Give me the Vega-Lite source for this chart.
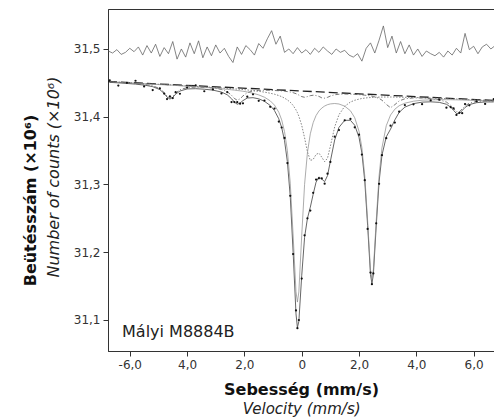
{
"$schema": "https://vega.github.io/schema/vega-lite/v6.json",
"width": 386, "height": 342,
"autosize": {"type": "none"},
"padding": {"left": 108, "top": 9, "right": 0, "bottom": 67},
"background": "white",
"config": {"view": {"stroke": "#333", "strokeWidth": 1}, "font": "DejaVu Sans"},
"datasets": {
"spec": [
{"v":-6.7,"fit":31.4507,"fe2":31.4514,"fe3":31.4516,"sx":31.4515,"obs":31.4537},
{"v":-6.4,"fit":31.4500,"fe2":31.4508,"fe3":31.4510,"sx":31.4508,"obs":31.4460},
{"v":-6.1,"fit":31.4491,"fe2":31.4501,"fe3":31.4504,"sx":31.4500,"obs":31.4501},
{"v":-5.8,"fit":31.4481,"fe2":31.4494,"fe3":31.4497,"sx":31.4492,"obs":31.4531},
{"v":-5.5,"fit":31.4467,"fe2":31.4487,"fe3":31.4490,"sx":31.4478,"obs":31.4447},
{"v":-5.2,"fit":31.4444,"fe2":31.4480,"fe3":31.4484,"sx":31.4457,"obs":31.4394},
{"v":-4.95,"fit":31.4400,"fe2":31.4474,"fe3":31.4478,"sx":31.4414,"obs":31.4420},
{"v":-4.8,"fit":31.4342,"fe2":31.4471,"fe3":31.4475,"sx":31.4356,"obs":31.4342},
{"v":-4.7,"fit":31.4290,"fe2":31.4469,"fe3":31.4473,"sx":31.4304,"obs":31.4260},
{"v":-4.6,"fit":31.4260,"fe2":31.4467,"fe3":31.4471,"sx":31.4274,"obs":31.4300},
{"v":-4.5,"fit":31.4286,"fe2":31.4465,"fe3":31.4469,"sx":31.4300,"obs":31.4276},
{"v":-4.4,"fit":31.4333,"fe2":31.4463,"fe3":31.4467,"sx":31.4348,"obs":31.4363},
{"v":-4.25,"fit":31.4379,"fe2":31.4456,"fe3":31.4461,"sx":31.4398,"obs":31.4339},
{"v":-4.0,"fit":31.4410,"fe2":31.4450,"fe3":31.4456,"sx":31.4430,"obs":31.4430},
{"v":-3.7,"fit":31.4414,"fe2":31.4442,"fe3":31.4449,"sx":31.4437,"obs":31.4464},
{"v":-3.4,"fit":31.4406,"fe2":31.4433,"fe3":31.4441,"sx":31.4434,"obs":31.4376},
{"v":-3.1,"fit":31.4393,"fe2":31.4424,"fe3":31.4434,"sx":31.4425,"obs":31.4403},
{"v":-2.8,"fit":31.4364,"fe2":31.4412,"fe3":31.4425,"sx":31.4403,"obs":31.4344},
{"v":-2.6,"fit":31.4324,"fe2":31.4404,"fe3":31.4419,"sx":31.4369,"obs":31.4364},
{"v":-2.45,"fit":31.4266,"fe2":31.4397,"fe3":31.4414,"sx":31.4317,"obs":31.4216},
{"v":-2.35,"fit":31.4216,"fe2":31.4393,"fe3":31.4411,"sx":31.4270,"obs":31.4216},
{"v":-2.25,"fit":31.4184,"fe2":31.4387,"fe3":31.4408,"sx":31.4243,"obs":31.4214},
{"v":-2.15,"fit":31.4202,"fe2":31.4382,"fe3":31.4405,"sx":31.4265,"obs":31.4192},
{"v":-2.05,"fit":31.4238,"fe2":31.4376,"fe3":31.4401,"sx":31.4307,"obs":31.4198},
{"v":-1.9,"fit":31.4276,"fe2":31.4365,"fe3":31.4395,"sx":31.4356,"obs":31.4296},
{"v":-1.7,"fit":31.4281,"fe2":31.4346,"fe3":31.4385,"sx":31.4380,"obs":31.4331},
{"v":-1.5,"fit":31.4264,"fe2":31.4322,"fe3":31.4375,"sx":31.4389,"obs":31.4234},
{"v":-1.3,"fit":31.4228,"fe2":31.4288,"fe3":31.4363,"sx":31.4391,"obs":31.4238},
{"v":-1.1,"fit":31.4166,"fe2":31.4235,"fe3":31.4347,"sx":31.4390,"obs":31.4146},
{"v":-0.95,"fit":31.4090,"fe2":31.4171,"fe3":31.4332,"sx":31.4387,"obs":31.4120},
{"v":-0.8,"fit":31.3969,"fe2":31.4066,"fe3":31.4313,"sx":31.4384,"obs":31.3929},
{"v":-0.7,"fit":31.3841,"fe2":31.3954,"fe3":31.4296,"sx":31.4381,"obs":31.3841},
{"v":-0.6,"fit":31.3647,"fe2":31.3780,"fe3":31.4275,"sx":31.4376,"obs":31.3687},
{"v":-0.5,"fit":31.3336,"fe2":31.3497,"fe3":31.4248,"sx":31.4371,"obs":31.3316},
{"v":-0.4,"fit":31.2822,"fe2":31.3019,"fe3":31.4214,"sx":31.4365,"obs":31.2832},
{"v":-0.3,"fit":31.2003,"fe2":31.2253,"fe3":31.4167,"sx":31.4355,"obs":31.1973},
{"v":-0.2,"fit":31.1091,"fe2":31.1418,"fe3":31.4101,"sx":31.4340,"obs":31.1141},
{"v":-0.15,"fit":31.0888,"fe2":31.1264,"fe3":31.4059,"sx":31.4331,"obs":31.0878},
{"v":-0.1,"fit":31.0978,"fe2":31.1414,"fe3":31.4008,"sx":31.4320,"obs":31.0998},
{"v":0.0,"fit":31.1652,"fe2":31.2242,"fe3":31.3873,"sx":31.4297,"obs":31.1612},
{"v":0.1,"fit":31.2220,"fe2":31.3001,"fe3":31.3688,"sx":31.4287,"obs":31.2250},
{"v":0.2,"fit":31.2500,"fe2":31.3472,"fe3":31.3483,"sx":31.4297,"obs":31.2500},
{"v":0.3,"fit":31.2665,"fe2":31.3748,"fe3":31.3354,"sx":31.4311,"obs":31.2615},
{"v":0.4,"fit":31.2856,"fe2":31.3913,"fe3":31.3370,"sx":31.4317,"obs":31.2876},
{"v":0.5,"fit":31.3033,"fe2":31.4017,"fe3":31.3443,"sx":31.4313,"obs":31.3073},
{"v":0.6,"fit":31.3111,"fe2":31.4084,"fe3":31.3463,"sx":31.4300,"obs":31.3091},
{"v":0.7,"fit":31.3079,"fe2":31.4128,"fe3":31.3402,"sx":31.4279,"obs":31.3089},
{"v":0.8,"fit":31.3042,"fe2":31.4158,"fe3":31.3336,"sx":31.4274,"obs":31.3012},
{"v":0.9,"fit":31.3130,"fe2":31.4178,"fe3":31.3388,"sx":31.4286,"obs":31.3160},
{"v":1.0,"fit":31.3342,"fe2":31.4189,"fe3":31.3566,"sx":31.4305,"obs":31.3332},
{"v":1.15,"fit":31.3656,"fe2":31.4195,"fe3":31.3849,"sx":31.4324,"obs":31.3706},
{"v":1.3,"fit":31.3843,"fe2":31.4188,"fe3":31.4029,"sx":31.4332,"obs":31.3803},
{"v":1.5,"fit":31.3947,"fe2":31.4156,"fe3":31.4154,"sx":31.4335,"obs":31.3947},
{"v":1.7,"fit":31.3947,"fe2":31.4088,"fe3":31.4217,"sx":31.4332,"obs":31.3967},
{"v":1.85,"fit":31.3874,"fe2":31.3985,"fe3":31.4243,"sx":31.4330,"obs":31.3844},
{"v":2.0,"fit":31.3695,"fe2":31.3785,"fe3":31.4260,"sx":31.4326,"obs":31.3735},
{"v":2.1,"fit":31.3462,"fe2":31.3543,"fe3":31.4269,"sx":31.4322,"obs":31.3442},
{"v":2.2,"fit":31.3053,"fe2":31.3128,"fe3":31.4275,"sx":31.4318,"obs":31.3063},
{"v":2.3,"fit":31.2393,"fe2":31.2464,"fe3":31.4280,"sx":31.4313,"obs":31.2343},
{"v":2.4,"fit":31.1669,"fe2":31.1739,"fe3":31.4283,"sx":31.4307,"obs":31.1699},
{"v":2.45,"fit":31.1538,"fe2":31.1607,"fe3":31.4285,"sx":31.4304,"obs":31.1528},
{"v":2.5,"fit":31.1667,"fe2":31.1739,"fe3":31.4286,"sx":31.4298,"obs":31.1687},
{"v":2.6,"fit":31.2387,"fe2":31.2465,"fe3":31.4288,"sx":31.4286,"obs":31.2427},
{"v":2.7,"fit":31.3039,"fe2":31.3128,"fe3":31.4289,"sx":31.4270,"obs":31.3009},
{"v":2.8,"fit":31.3432,"fe2":31.3542,"fe3":31.4290,"sx":31.4244,"obs":31.3432},
{"v":2.95,"fit":31.3703,"fe2":31.3867,"fe3":31.4291,"sx":31.4183,"obs":31.3683},
{"v":3.1,"fit":31.3817,"fe2":31.4025,"fe3":31.4291,"sx":31.4133,"obs":31.3867},
{"v":3.25,"fit":31.3953,"fe2":31.4111,"fe3":31.4290,"sx":31.4178,"obs":31.3913},
{"v":3.4,"fit":31.4064,"fe2":31.4162,"fe3":31.4289,"sx":31.4233,"obs":31.4074},
{"v":3.6,"fit":31.4142,"fe2":31.4200,"fe3":31.4287,"sx":31.4265,"obs":31.4172},
{"v":3.9,"fit":31.4193,"fe2":31.4229,"fe3":31.4284,"sx":31.4278,"obs":31.4183},
{"v":4.2,"fit":31.4215,"fe2":31.4244,"fe3":31.4281,"sx":31.4276,"obs":31.4185},
{"v":4.5,"fit":31.4220,"fe2":31.4249,"fe3":31.4276,"sx":31.4267,"obs":31.4240},
{"v":4.8,"fit":31.4212,"fe2":31.4251,"fe3":31.4271,"sx":31.4250,"obs":31.4252},
{"v":5.05,"fit":31.4184,"fe2":31.4251,"fe3":31.4267,"sx":31.4216,"obs":31.4134},
{"v":5.2,"fit":31.4141,"fe2":31.4251,"fe3":31.4265,"sx":31.4169,"obs":31.4141},
{"v":5.3,"fit":31.4093,"fe2":31.4250,"fe3":31.4263,"sx":31.4120,"obs":31.4123},
{"v":5.4,"fit":31.4047,"fe2":31.4249,"fe3":31.4261,"sx":31.4073,"obs":31.4027},
{"v":5.5,"fit":31.4047,"fe2":31.4248,"fe3":31.4259,"sx":31.4072,"obs":31.4057},
{"v":5.6,"fit":31.4092,"fe2":31.4247,"fe3":31.4258,"sx":31.4115,"obs":31.4052},
{"v":5.7,"fit":31.4137,"fe2":31.4245,"fe3":31.4255,"sx":31.4159,"obs":31.4187},
{"v":5.85,"fit":31.4179,"fe2":31.4243,"fe3":31.4252,"sx":31.4200,"obs":31.4169},
{"v":6.1,"fit":31.4207,"fe2":31.4240,"fe3":31.4248,"sx":31.4225,"obs":31.4227},
{"v":6.4,"fit":31.4218,"fe2":31.4236,"fe3":31.4243,"sx":31.4233,"obs":31.4188},
{"v":6.7,"fit":31.4218,"fe2":31.4231,"fe3":31.4237,"sx":31.4232,"obs":31.4258}
],
"base": [{"v":-6.76,"b":31.452},{"v":6.71,"b":31.424}],
"res": [
{"v":-6.75,"r":31.497},{"v":-6.6,"r":31.494},{"v":-6.45,"r":31.499},{"v":-6.3,"r":31.492},{"v":-6.15,"r":31.495},{"v":-6.0,"r":31.501},{"v":-5.85,"r":31.496},{"v":-5.7,"r":31.503},{"v":-5.55,"r":31.491},{"v":-5.4,"r":31.505},{"v":-5.25,"r":31.494},{"v":-5.1,"r":31.507},{"v":-4.95,"r":31.489},{"v":-4.8,"r":31.502},{"v":-4.65,"r":31.493},{"v":-4.5,"r":31.511},{"v":-4.35,"r":31.485},{"v":-4.2,"r":31.500},{"v":-4.05,"r":31.488},{"v":-3.9,"r":31.509},{"v":-3.75,"r":31.493},{"v":-3.6,"r":31.512},{"v":-3.45,"r":31.487},{"v":-3.3,"r":31.503},{"v":-3.15,"r":31.490},{"v":-3.0,"r":31.506},{"v":-2.85,"r":31.494},{"v":-2.7,"r":31.501},{"v":-2.55,"r":31.489},{"v":-2.4,"r":31.480},{"v":-2.25,"r":31.503},{"v":-2.1,"r":31.492},{"v":-1.95,"r":31.505},{"v":-1.8,"r":31.499},{"v":-1.65,"r":31.491},{"v":-1.5,"r":31.508},{"v":-1.35,"r":31.501},{"v":-1.2,"r":31.515},{"v":-1.05,"r":31.527},{"v":-0.9,"r":31.507},{"v":-0.75,"r":31.519},{"v":-0.6,"r":31.495},{"v":-0.45,"r":31.500},{"v":-0.3,"r":31.493},{"v":-0.15,"r":31.502},{"v":0.0,"r":31.494},{"v":0.15,"r":31.499},{"v":0.3,"r":31.492},{"v":0.45,"r":31.501},{"v":0.6,"r":31.495},{"v":0.75,"r":31.503},{"v":0.9,"r":31.497},{"v":1.05,"r":31.492},{"v":1.2,"r":31.500},{"v":1.35,"r":31.495},{"v":1.5,"r":31.498},{"v":1.65,"r":31.491},{"v":1.8,"r":31.488},{"v":1.95,"r":31.493},{"v":2.1,"r":31.482},{"v":2.25,"r":31.501},{"v":2.4,"r":31.509},{"v":2.55,"r":31.494},{"v":2.7,"r":31.513},{"v":2.85,"r":31.534},{"v":3.0,"r":31.502},{"v":3.15,"r":31.519},{"v":3.3,"r":31.494},{"v":3.45,"r":31.511},{"v":3.6,"r":31.493},{"v":3.75,"r":31.506},{"v":3.9,"r":31.491},{"v":4.05,"r":31.500},{"v":4.2,"r":31.489},{"v":4.35,"r":31.497},{"v":4.5,"r":31.493},{"v":4.65,"r":31.490},{"v":4.8,"r":31.495},{"v":4.95,"r":31.488},{"v":5.1,"r":31.497},{"v":5.25,"r":31.491},{"v":5.4,"r":31.501},{"v":5.55,"r":31.494},{"v":5.7,"r":31.523},{"v":5.85,"r":31.499},{"v":6.0,"r":31.504},{"v":6.15,"r":31.493},{"v":6.3,"r":31.503},{"v":6.45,"r":31.507},{"v":6.6,"r":31.500},{"v":6.75,"r":31.505}
]
},
"layer": [
{
"data": {"name": "spec"},
"mark": {"type": "line", "color": "#555", "strokeWidth": 0.9, "clip": true},
"encoding": {
"x": {"field": "v", "type": "quantitative", "title": "Sebesség (mm/s)", "scale": {"domain": [-6.76, 6.71], "nice": false, "zero": false},
 "axis": {"values": [-6,-5,-4,-3,-2,-1,0,1,2,3,4,5,6], "grid": false,
  "labelExpr": "datum.value == 0 ? '0' : (datum.value % 2 != 0 ? '' : (datum.value == -6 ? '-6,0' : replace(format(abs(datum.value), '.1f'), '.', ',')))",
  "tickSize": {"condition": {"test": "datum.value % 2 != 0", "value": 3}, "value": 5},
  "labelFont": "DejaVu Sans", "labelFontSize": 12, "labelColor": "#333", "labelPadding": 3,
  "domainColor": "#333", "tickColor": "#333",
  "titleFont": "DejaVu Sans", "titleFontSize": 16, "titleFontWeight": "bold", "titleColor": "#111", "titlePadding": 11}},
"y": {"field": "fit", "type": "quantitative", "title": "Beütésszám (×10⁶)", "scale": {"domain": [31.0542, 31.559], "nice": false, "zero": false},
 "axis": {"values": [31.1, 31.2, 31.3, 31.4, 31.5], "grid": false,
  "labelExpr": "replace(format(datum.value, '.1f'), '.', ',')",
  "labelFont": "DejaVu Sans", "labelFontSize": 12, "labelColor": "#333", "labelPadding": 3, "tickSize": 5,
  "domainColor": "#333", "tickColor": "#333",
  "titleFont": "DejaVu Sans", "titleFontSize": 16, "titleFontWeight": "bold", "titleColor": "#111", "titlePadding": 35, "titleY": 191}}
}
},
{
"data": {"name": "res"},
"mark": {"type": "line", "color": "#666", "strokeWidth": 0.8, "clip": true},
"encoding": {
"x": {"field": "v", "type": "quantitative", "title": "Sebesség (mm/s)"},
"y": {"field": "r", "type": "quantitative", "title": "Beütésszám (×10⁶)"}
}
},
{
"data": {"name": "base"},
"mark": {"type": "line", "color": "#222", "strokeWidth": 1.3, "strokeDash": [9, 4]},
"encoding": {
"x": {"field": "v", "type": "quantitative", "title": "Sebesség (mm/s)"},
"y": {"field": "b", "type": "quantitative", "title": "Beütésszám (×10⁶)"}
}
},
{
"data": {"name": "spec"},
"mark": {"type": "line", "color": "#555", "strokeWidth": 0.8, "strokeDash": [4, 2, 1, 2]},
"encoding": {
"x": {"field": "v", "type": "quantitative", "title": "Sebesség (mm/s)"},
"y": {"field": "sx", "type": "quantitative", "title": "Beütésszám (×10⁶)"}
}
},
{
"data": {"name": "spec"},
"mark": {"type": "line", "color": "#666", "strokeWidth": 0.8, "strokeDash": [1.5, 1.5]},
"encoding": {
"x": {"field": "v", "type": "quantitative", "title": "Sebesség (mm/s)"},
"y": {"field": "fe3", "type": "quantitative", "title": "Beütésszám (×10⁶)"}
}
},
{
"data": {"name": "spec"},
"mark": {"type": "line", "color": "#888", "strokeWidth": 0.7},
"encoding": {
"x": {"field": "v", "type": "quantitative", "title": "Sebesség (mm/s)"},
"y": {"field": "fe2", "type": "quantitative", "title": "Beütésszám (×10⁶)"}
}
},
{
"data": {"name": "spec"},
"mark": {"type": "point", "filled": true, "color": "#111", "size": 5, "opacity": 1},
"encoding": {
"x": {"field": "v", "type": "quantitative", "title": "Sebesség (mm/s)"},
"y": {"field": "obs", "type": "quantitative", "title": "Beütésszám (×10⁶)"}
}
},
{
"data": {"values": [{}]},
"mark": {"type": "text", "text": "Mályi M8884B", "font": "DejaVu Sans", "fontSize": 16, "color": "#222", "align": "left", "baseline": "middle"},
"encoding": {
"x": {"datum": -6.27, "type": "quantitative", "title": "Sebesség (mm/s)"},
"y": {"datum": 31.0823, "type": "quantitative", "title": "Beütésszám (×10⁶)"}
}
},
{
"data": {"values": [{}]},
"mark": {"type": "text", "text": "Velocity (mm/s)", "font": "DejaVu Sans", "fontSize": 15, "fontStyle": "italic", "color": "#222", "align": "center", "baseline": "middle"},
"encoding": {
"x": {"datum": 0, "type": "quantitative", "title": "Sebesség (mm/s)"},
"y": {"datum": 30.9686, "type": "quantitative", "title": "Beütésszám (×10⁶)"}
}
},
{
"data": {"values": [{}]},
"mark": {"type": "text", "text": "Number of counts (×10⁶)", "font": "DejaVu Sans", "fontSize": 16, "fontStyle": "italic", "color": "#222", "align": "center", "baseline": "middle", "angle": 270},
"encoding": {
"x": {"datum": -8.644, "type": "quantitative", "title": "Sebesség (mm/s)"},
"y": {"datum": 31.311, "type": "quantitative", "title": "Beütésszám (×10⁶)"}
}
}
]
}
